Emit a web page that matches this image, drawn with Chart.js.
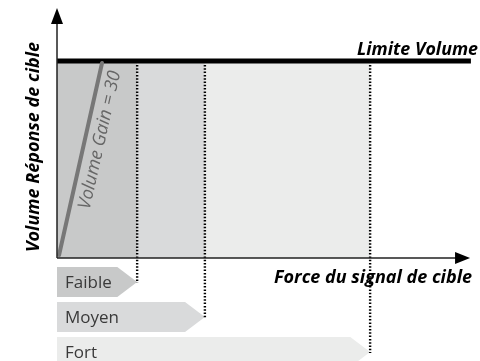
<!DOCTYPE html>
<html>
<head>
<meta charset="utf-8">
<script src="https://cdn.jsdelivr.net/npm/chart.js@4"></script>
<style>
    body { margin: 0; background: #fff; }
    #graficoVolume { display: block; }
</style>
</head>
<body>
<canvas id="graficoVolume" width="480" height="361"></canvas>
<script>
// niveaux de signal (fin de chaque zone sur l'axe "Force du signal")
const niveaux = ['Faible', 'Moyen', 'Fort'];
const finNiveaux = [19.4, 35.8, 75.8];
const couleursNiveaux = ['#c8c9c9', '#d9dadb', '#ebeceb'];

// limite de volume et droite de gain
const limiteVolume = 78.8;
const limiteFinX = 100.2;
const gainX = [0.5, 10.9];
const gainY = [1.2, 78];
const gainLabel = 'Volume Gain = 30';

// textes
const titreY = 'Volume Réponse de cible';
const titreX = 'Force du signal de cible';
const titreLimite = 'Limite Volume';

// bornes des axes (l'origine est en 0,0)
const xMin = -13.8, xMax = 102.4;
const yMin = -41.2, yMax = 103.2;
const flecheX = 100, flecheY = 100;

// bandeaux du bas
const bandeauHaut = [-3.6, -17.6, -31.6];
const bandeauHauteur = 12;
const pointeLong = 4.8;
const finPointilles = [-10, -24, -38];

const FONT = '"Open Sans", "DejaVu Sans", sans-serif';

document.addEventListener("DOMContentLoaded", function () {
    renderChart();
});

function renderChart() {
    const ctx = document.getElementById('graficoVolume').getContext('2d');

    const datasets = [];

    // pointillés verticaux
    finNiveaux.forEach((x, i) => {
        datasets.push({
            data: [{ x: x, y: 77.2 }, { x: x, y: finPointilles[i] }],
            borderColor: '#000',
            borderWidth: 2.4,
            borderDash: [1.5, 1.8],
            borderCapStyle: 'butt',
            pointRadius: 0,
            showLine: true
        });
    });

    // droite de gain
    datasets.push({
        data: gainX.map((x, i) => ({ x: x, y: gainY[i] })),
        borderColor: '#777777',
        borderWidth: 4,
        borderCapStyle: 'round',
        pointRadius: 0,
        showLine: true
    });

    // limite de volume
    datasets.push({
        data: [{ x: 0, y: limiteVolume }, { x: limiteFinX, y: limiteVolume }],
        borderColor: '#000',
        borderWidth: 5,
        borderCapStyle: 'butt',
        pointRadius: 0,
        showLine: true
    });

    const fondPlugin = {
        id: 'fond',
        beforeDatasetsDraw(chart) {
            const c = chart.ctx;
            const sx = chart.scales.x, sy = chart.scales.y;
            const haut = sy.getPixelForValue(78);
            const bas = sy.getPixelForValue(0);
            c.save();
            let debut = 0;
            finNiveaux.forEach((fin, i) => {
                const x0 = sx.getPixelForValue(debut);
                const x1 = sx.getPixelForValue(fin);
                c.fillStyle = couleursNiveaux[i];
                c.fillRect(x0, haut, x1 - x0, bas - haut);
                debut = fin;
            });

            // bandeaux en forme de flèche
            finNiveaux.forEach((fin, i) => {
                const x0 = sx.getPixelForValue(0);
                const xr = sx.getPixelForValue(fin - pointeLong);
                const xt = sx.getPixelForValue(fin);
                const y0 = sy.getPixelForValue(bandeauHaut[i]);
                const y1 = sy.getPixelForValue(bandeauHaut[i] - bandeauHauteur);
                c.fillStyle = couleursNiveaux[i];
                c.beginPath();
                c.moveTo(x0, y0);
                c.lineTo(xr, y0);
                c.lineTo(xt, (y0 + y1) / 2);
                c.lineTo(xr, y1);
                c.lineTo(x0, y1);
                c.closePath();
                c.fill();

                c.fillStyle = '#3a3a3a';
                c.font = '17px ' + FONT;
                c.textBaseline = 'middle';
                c.textAlign = 'left';
                c.fillText(niveaux[i], x0 + 8, (y0 + y1) / 2 + 1);
            });
            c.restore();
        },
        afterDatasetsDraw(chart) {
            const c = chart.ctx;
            const sx = chart.scales.x, sy = chart.scales.y;
            const ox = sx.getPixelForValue(0);
            const oy = sy.getPixelForValue(0);
            const ax = sx.getPixelForValue(flecheX);
            const ay = sy.getPixelForValue(flecheY);
            c.save();
            c.strokeStyle = '#222';
            c.fillStyle = '#000';
            c.lineWidth = 1.5;
            c.beginPath();
            c.moveTo(ox, oy);
            c.lineTo(ax - 10, oy);
            c.moveTo(ox, oy);
            c.lineTo(ox, ay + 10);
            c.stroke();
            // pointes
            c.beginPath();
            c.moveTo(ax, oy);
            c.lineTo(ax - 15, oy - 6);
            c.lineTo(ax - 15, oy + 6);
            c.closePath();
            c.fill();
            c.beginPath();
            c.moveTo(ox, ay);
            c.lineTo(ox - 6, ay + 16);
            c.lineTo(ox + 6, ay + 16);
            c.closePath();
            c.fill();

            // texte de la droite de gain
            const gx0 = sx.getPixelForValue(gainX[0]), gy0 = sy.getPixelForValue(gainY[0]);
            const gx1 = sx.getPixelForValue(gainX[1]), gy1 = sy.getPixelForValue(gainY[1]);
            const angle = Math.atan2(gy1 - gy0, gx1 - gx0);
            c.translate(100, 140);
            c.rotate(angle);
            c.fillStyle = '#666';
            c.font = 'italic 18px ' + FONT;
            c.textAlign = 'center';
            c.textBaseline = 'middle';
            c.fillText(gainLabel, 0, 0, 144);
            c.restore();

            // titres
            c.save();
            c.fillStyle = '#000';
            c.font = 'italic bold 18px ' + FONT;
            c.textAlign = 'right';
            c.textBaseline = 'alphabetic';
            c.fillText(titreLimite, 478, 55, 121);
            c.fillText(titreX, 472, 283, 200);
            c.translate(39, 147);
            c.rotate(-Math.PI / 2);
            c.textAlign = 'center';
            c.fillText(titreY, 0, 0, 213);
            c.restore();
        }
    };

    new Chart(ctx, {
        type: 'scatter',
        data: { datasets: datasets },
        options: {
            responsive: false,
            animation: false,
            devicePixelRatio: 1,
            layout: { padding: 0 },
            plugins: {
                legend: { display: false },
                tooltip: { enabled: false }
            },
            scales: {
                x: { type: 'linear', min: xMin, max: xMax, display: false },
                y: { type: 'linear', min: yMin, max: yMax, display: false }
            }
        },
        plugins: [fondPlugin]
    });
}
</script>
</body>
</html>
